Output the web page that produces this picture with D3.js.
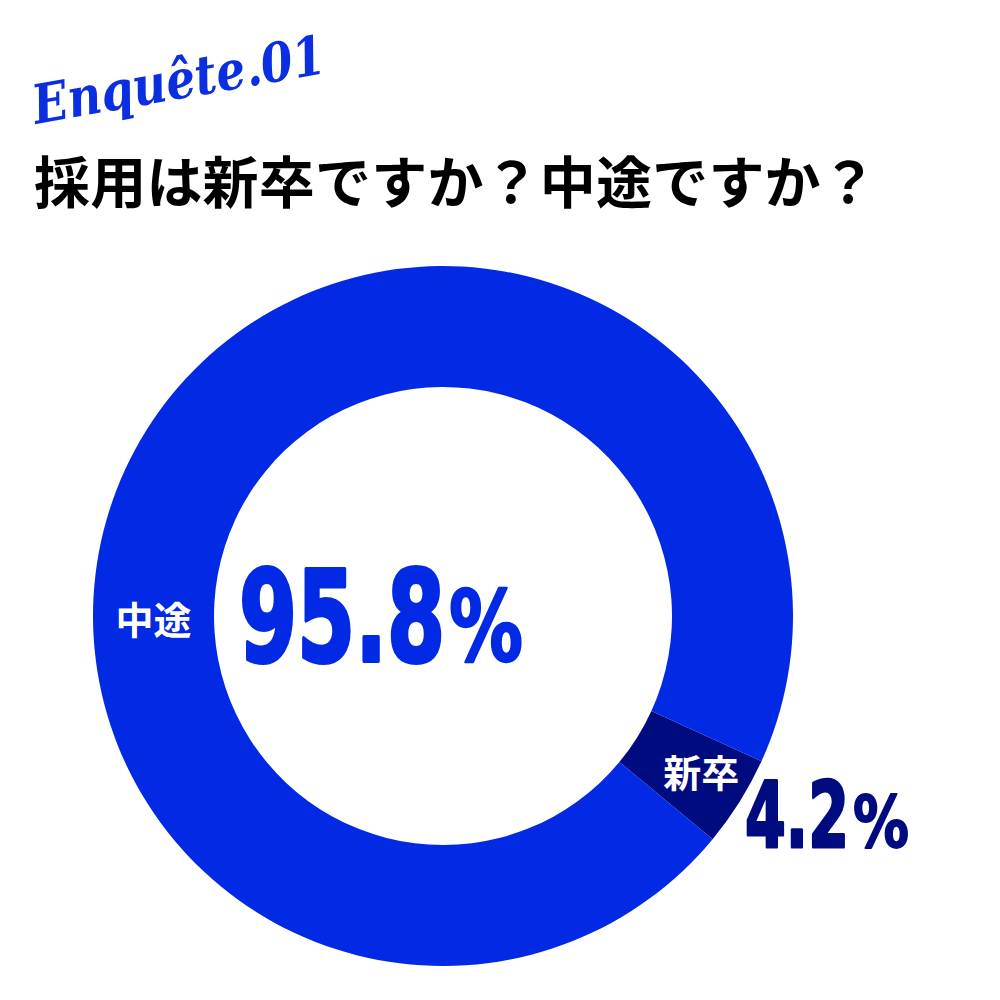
<!DOCTYPE html>
<html>
<head>
<meta charset="utf-8">
<script src="https://cdn.jsdelivr.net/npm/d3@7"></script>
<style>
  body { margin: 0; background: #fff; }
  .jp { font-family: "Noto Sans CJK JP", "Noto Sans", sans-serif; font-weight: 700; }
  .num { font-family: "DejaVu Sans", sans-serif; font-weight: 700; }
</style>
</head>
<body>
<div id="chart"></div>
<script>
const categories = ['新卒', '中途'];
const values = [4.2, 95.8];
const valueLabels = ['4.2', '95.8'];
const colors = ['#000b80', '#0229e3'];

const width = 1000;
const height = 1000;
const center = { x: 443, y: 616 };
const outerRadius = 350;
const innerRadius = 229;
const startDeg = 114.5;

const svg = d3.select('#chart').append('svg')
  .attr('width', width)
  .attr('height', height);

// heading
svg.append('text')
  .attr('transform', 'translate(36,124) rotate(-10)')
  .attr('font-family', '"DejaVu Serif", serif')
  .attr('font-style', 'italic')
  .attr('font-weight', 700)
  .attr('font-size', 54)
  .attr('fill', '#0a2ee0')
  .attr('textLength', 296)
  .attr('lengthAdjust', 'spacingAndGlyphs')
  .text('Enquête.01');

svg.append('text')
  .attr('class', 'jp')
  .attr('x', 34)
  .attr('y', 203)
  .attr('font-size', 56)
  .attr('letter-spacing', 0.2)
  .attr('fill', '#000')
  .text('採用は新卒ですか？中途ですか？');

// donut
const pie = d3.pie().sort(null)
  .startAngle(startDeg * Math.PI / 180)
  .endAngle(startDeg * Math.PI / 180 + 2 * Math.PI);
const arc = d3.arc().innerRadius(innerRadius).outerRadius(outerRadius);
const arcs = pie(values);

const g = svg.append('g')
  .attr('transform', `translate(${center.x},${center.y})`);

g.selectAll('path.slice')
  .data(arcs)
  .enter().append('path')
  .attr('class', 'slice')
  .attr('fill', (d, i) => colors[i])
  .attr('d', arc);

// category labels
const midR = (innerRadius + outerRadius) / 2;
const labelPos = [
  arc.centroid(arcs[0]),
  [-midR, 0]
];
g.selectAll('text.cat')
  .data(categories)
  .enter().append('text')
  .attr('class', 'cat jp')
  .attr('x', (d, i) => labelPos[i][0] + (i === 0 ? 13 : 0))
  .attr('y', (d, i) => labelPos[i][1] + 1)
  .attr('text-anchor', 'middle')
  .attr('dominant-baseline', 'central')
  .attr('font-size', 38)
  .attr('fill', '#fff')
  .text(d => d);

// squeezed text, fitted to a width
function squeezed(parent, str, x, y, size, w, stroke) {
  const t = parent.append('text')
    .attr('class', 'num')
    .attr('font-size', size)
    .attr('stroke', 'currentColor')
    .attr('stroke-width', stroke)
    .attr('stroke-linejoin', 'round')
    .text(str);
  const sx = w / t.node().getComputedTextLength();
  t.attr('transform', `translate(${x},${y}) scale(${sx},1)`);
}

function percent(x, y, idx, numSize, numLen, pctSize, pctLen, stroke) {
  const t = svg.append('g').attr('fill', colors[idx]).style('color', colors[idx]);
  squeezed(t, valueLabels[idx], x, y, numSize, numLen, stroke);
  squeezed(t, '%', x + numLen + 4, y, pctSize, pctLen, stroke * 0.6);
}

percent(239, 661, 1, 127, 206, 98, 74, 4);
percent(745, 847, 0, 91, 104, 72, 56, 3);
</script>
</body>
</html>
